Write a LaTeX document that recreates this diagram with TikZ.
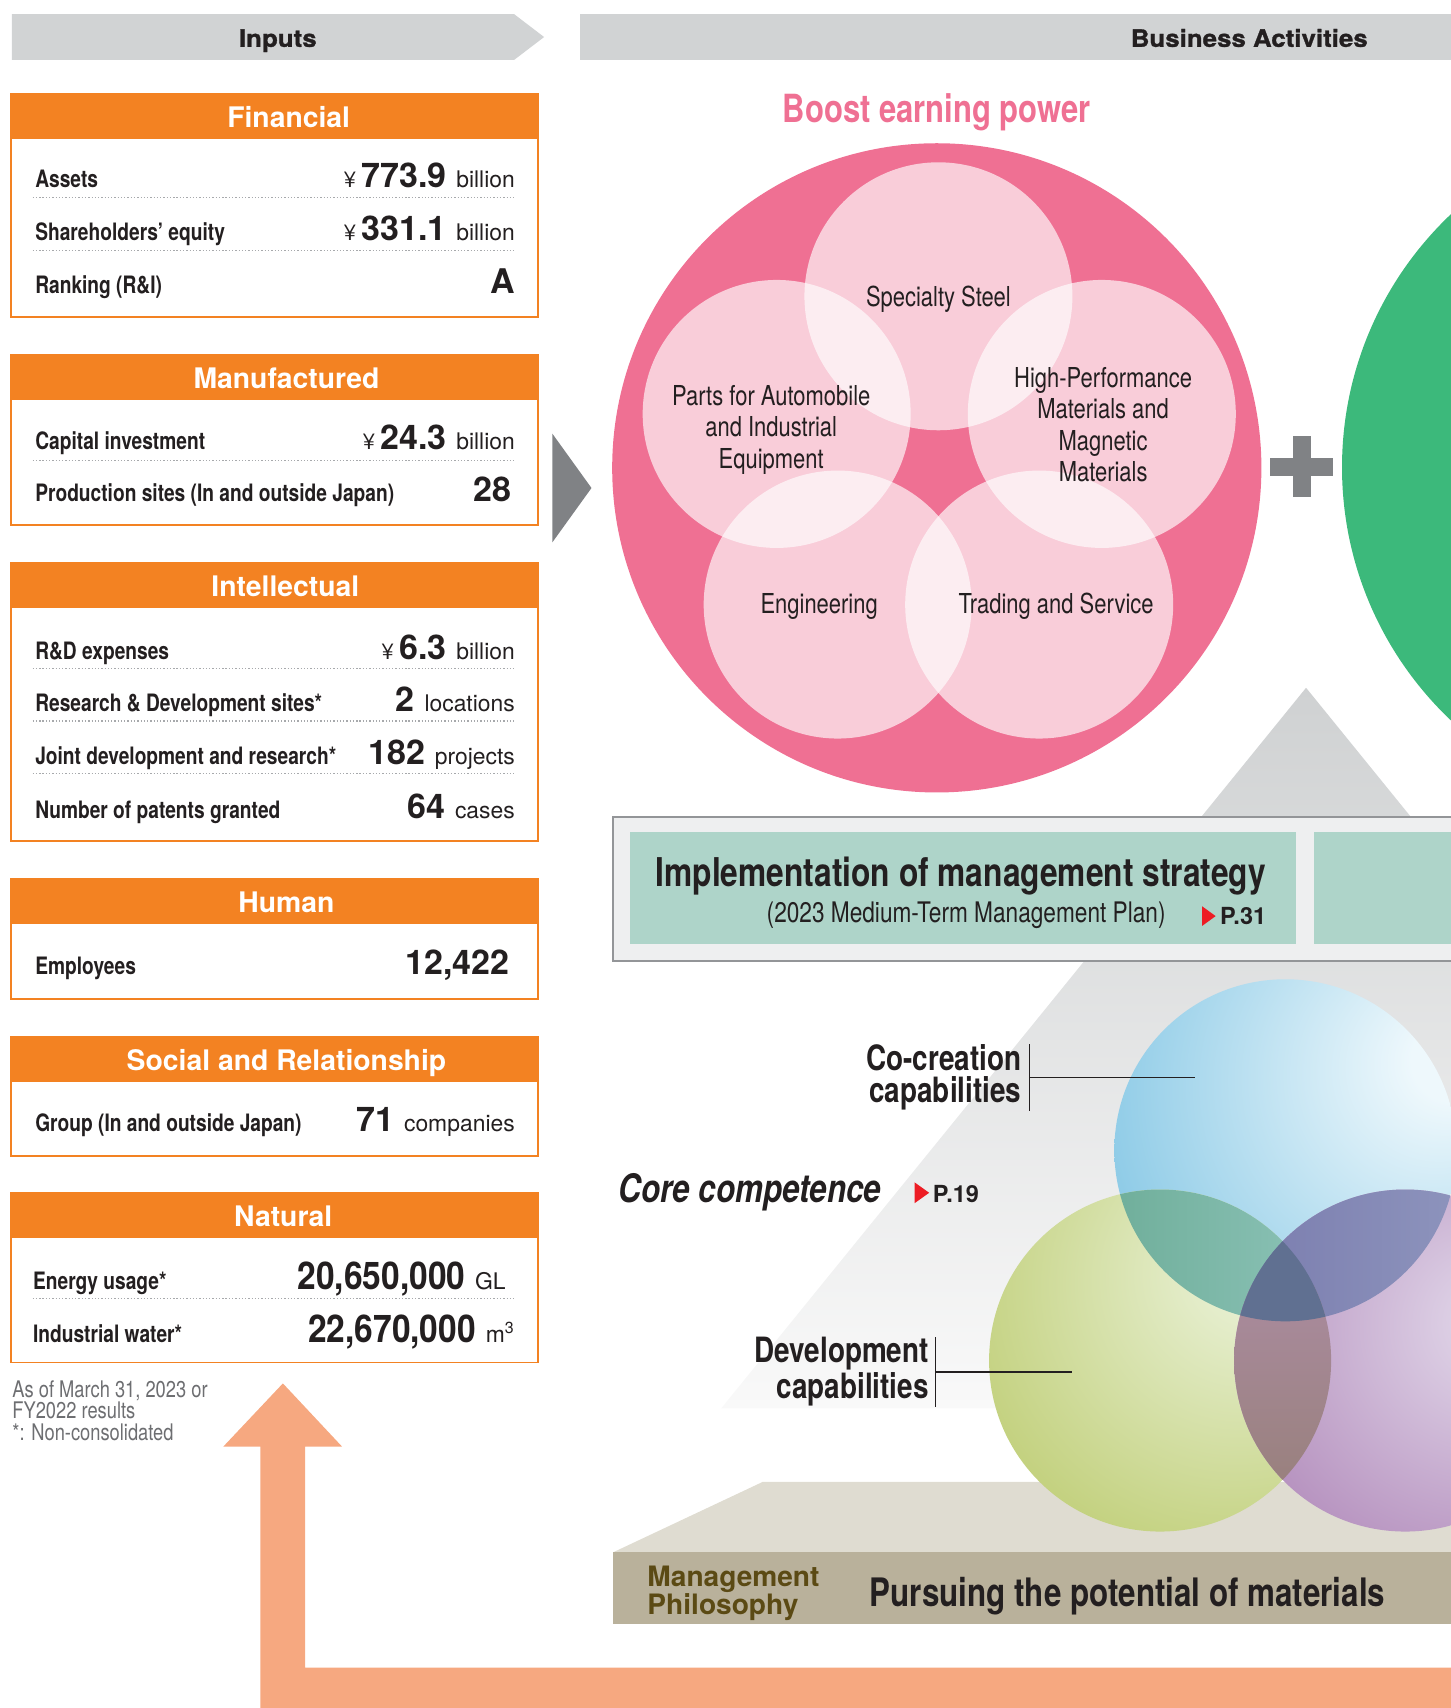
\documentclass[tikz,border=0pt]{standalone}
\usepackage{fontspec}
\setmainfont{TeX Gyre Heros}
\newfontfamily\condfont[FakeStretch=0.8]{TeX Gyre Heros}
\newfontfamily\semicondfont[FakeStretch=0.88]{TeX Gyre Heros}
\newfontfamily\heavyfont[FakeBold=1.2, FakeStretch=1.08]{TeX Gyre Heros}

\definecolor{ink}{HTML}{231F20}
\definecolor{capsorange}{HTML}{F38222}
\definecolor{bannergray}{HTML}{D1D3D4}
\definecolor{chevgray}{HTML}{808285}
\definecolor{boostpink}{HTML}{EF7093}
\definecolor{valuegreen}{HTML}{3CB97B}
\definecolor{stratteal}{HTML}{AED4C9}
\definecolor{framegray}{HTML}{939598}
\definecolor{framefill}{HTML}{EEEFF0}
\definecolor{pyrtop}{HTML}{CFD1D2}
\definecolor{pyrbottom}{HTML}{F9F9F9}
\definecolor{basetop}{HTML}{DFDCD1}
\definecolor{baseband}{HTML}{B9B19B}
\definecolor{philolive}{HTML}{5B4A14}
\definecolor{arroworange}{HTML}{F6A880}
\definecolor{pagered}{HTML}{ED1C24}
\definecolor{notegray}{HTML}{6D6E71}
\definecolor{dotgray}{HTML}{A7A9AC}
\definecolor{cocreateedge}{HTML}{74BFE1}
\definecolor{cocreateglow}{HTML}{EEF8FC}
\definecolor{developedge}{HTML}{BCCB6E}
\definecolor{developglow}{HTML}{E9F1D6}
\definecolor{makeedge}{HTML}{B088B9}
\definecolor{makeglow}{HTML}{DFD3E7}
\definecolor{lensbgleft}{HTML}{5FA38A}
\definecolor{lensbgright}{HTML}{8DC3B8}
\definecolor{lensbpleft}{HTML}{7A7CAE}
\definecolor{lensbpright}{HTML}{97A0C4}
\definecolor{lensgptop}{HTML}{AA8B9E}
\definecolor{lensgpbottom}{HTML}{957E76}
\definecolor{lenscore}{HTML}{607091}

% highlight sits up and to the right of each ball
\pgfdeclareradialshading{cocreateball}{\pgfpoint{26bp}{14bp}}{color(0bp)=(cocreateglow); color(6bp)=(cocreateglow); color(52bp)=(cocreateedge); color(100bp)=(cocreateedge)}
\pgfdeclareradialshading{developball}{\pgfpoint{15bp}{15bp}}{color(0bp)=(developglow); color(4bp)=(developglow); color(45bp)=(developedge); color(100bp)=(developedge)}
\pgfdeclareradialshading{makeball}{\pgfpoint{14bp}{6bp}}{color(0bp)=(makeglow); color(4bp)=(makeglow); color(40bp)=(makeedge); color(100bp)=(makeedge)}

\newcommand{\yensign}{{\fontsize{10}{10}\selectfont ¥}\hspace{2.5pt}}
\newcommand{\capsnum}[1]{{\bfseries\fontsize{15.6}{16}\selectfont #1}}
\newcommand{\naturalnum}[1]{{\semicondfont\bfseries\fontsize{17.5}{18}\selectfont #1}}
\newcommand{\capsunit}[1]{\hspace{4.5pt}{\fontsize{10.5}{11}\selectfont #1}}

\tikzset{
banner/.style = {inner sep=0pt, text=ink, font=\heavyfont\bfseries\fontsize{11}{11}\selectfont},
capsframe/.style = {draw=capsorange, line width=0.7pt, fill=white},
capstitle/.style = {anchor=base, inner sep=0pt, text=white, font=\bfseries\fontsize{13}{13}\selectfont},
rowlabel/.style = {anchor=base west, inner sep=0pt, text=ink, font=\condfont\bfseries\fontsize{11}{13}\selectfont},
rowvalue/.style = {anchor=base east, inner sep=0pt, text=ink},
rowsep/.style = {dotgray, line width=0.6pt, dash pattern=on 0.6pt off 0.9pt},
footnote/.style = {anchor=north west, align=left, inner sep=0pt, text=notegray, font=\condfont\fontsize{10.5}{8.4}\selectfont}
}
\tikzset{
bizcircle/.style = {fill=white, fill opacity=0.65},
bizlabel/.style = {anchor=north, align=center, inner sep=0pt, text=ink, font=\condfont\fontsize{12.6}{14.5}\selectfont},
boost/.style = {anchor=base, inner sep=0pt, text=boostpink, font=\condfont\bfseries\fontsize{17.8}{18}\selectfont},
strategy/.style = {anchor=base, inner sep=0pt, text=ink, font=\condfont\bfseries\fontsize{18.2}{19}\selectfont},
plan/.style = {anchor=base east, inner sep=0pt, text=ink, font=\condfont\fontsize{13}{14}\selectfont},
pageref/.style = {anchor=base west, inner sep=0pt, text=ink, font=\bfseries\fontsize{10.8}{11}\selectfont},
corelabel/.style = {anchor=base west, inner sep=0pt, text=ink, font=\condfont\bfseries\itshape\fontsize{18}{19}\selectfont},
competence/.style = {anchor=north east, align=right, inner sep=0pt, text=ink, font=\condfont\bfseries\fontsize{16}{14.7}\selectfont},
tickline/.style = {ink, line width=0.6pt},
philosophy/.style = {anchor=north west, align=left, inner sep=0pt, text=philolive, font=\bfseries\fontsize{12.9}{12.8}\selectfont},
pursuit/.style = {anchor=base west, inner sep=0pt, text=ink, font=\condfont\bfseries\fontsize{18}{19}\selectfont}
}

\begin{document}
\begin{tikzpicture}[x=0.5pt, y=-0.5pt]
\clip (0,0) rectangle (1332,1568);

% banners
\fill[bannergray] (11,13) -- (472,13) -- (499.5,34) -- (472,55) -- (11,55) -- cycle;
\node[banner, anchor=base] (inputs) at (255,43) {Inputs};
\fill[bannergray] (532,13) rectangle (1345,55);
\node[banner, anchor=base east] (business) at (1256,43) {Business Activities};

% the six capitals
\foreach \ytop/\ybot/\name/\tx/\title in {86/291/financial/265/Financial, 326/482/manufactured/263/Manufactured, 517/772/intellectual/262/Intellectual, 807/917/human/263/Human, 952/1061/social/263/Social and Relationship, 1095/1251/natural/260/Natural}{
  \draw[capsframe] (10,\ytop) rectangle (494,\ybot);
  \fill[capsorange] (10,\ytop) rectangle (494,\ytop+41.5);
  \node[capstitle] (\name) at (\tx,\ytop+31) {\title};
}
\foreach \y in {181,230,422.5,614,662,710,1192}
  \draw[rowsep] (30,\y) -- (473,\y);

\node[rowlabel] (assets) at (32,172) {Assets};
\node[rowvalue] (assetsval) at (473,172) {\yensign\capsnum{773.9}\capsunit{billion}};
\node[rowlabel] (equity) at (32,221) {Shareholders’ equity};
\node[rowvalue] (equityval) at (473,221) {\yensign\capsnum{331.1}\capsunit{billion}};
\node[rowlabel] (ranking) at (32,269.5) {Ranking (R\&I)};
\node[rowvalue] (rankingval) at (473,269.5) {\capsnum{A}};
\node[rowlabel] (capex) at (32,412.5) {Capital investment};
\node[rowvalue] (capexval) at (473,412.5) {\yensign\capsnum{24.3}\capsunit{billion}};
\node[rowlabel] (plants) at (32,460) {Production sites (In and outside Japan)};
\node[rowvalue] (plantsval) at (470,460) {\capsnum{28}};
\node[rowlabel] (rnd) at (32,605) {R\&D expenses};
\node[rowvalue] (rndval) at (473,605) {\yensign\capsnum{6.3}\capsunit{billion}};
\node[rowlabel] (labs) at (32,653) {Research \& Development sites*};
\node[rowvalue] (labsval) at (473,653) {\capsnum{2}\capsunit{locations}};
\node[rowlabel] (joint) at (32,702) {Joint development and research*};
\node[rowvalue] (jointval) at (473,702) {\capsnum{182}\capsunit{projects}};
\node[rowlabel] (patents) at (32,751) {Number of patents granted};
\node[rowvalue] (patentsval) at (473,751) {\capsnum{64}\capsunit{cases}};
\node[rowlabel] (staff) at (32,894.5) {Employees};
\node[rowvalue] (staffval) at (468,894.5) {\capsnum{12,422}};
\node[rowlabel] (group) at (32,1039) {Group (In and outside Japan)};
\node[rowvalue] (groupval) at (473,1039) {\capsnum{71}\capsunit{companies}};
\node[rowlabel] (energy) at (30,1184) {Energy usage*};
\node[rowvalue] (energyval) at (464.6,1184) {\naturalnum{20,650,000}\capsunit{GL}};
\node[rowlabel] (water) at (30,1232.5) {Industrial water*};
\node[rowvalue] (waterval) at (473,1232.5) {\naturalnum{22,670,000}\capsunit{m\textsuperscript{3}}};

\node[footnote] (asof) at (11,1267) {As of March 31, 2023 or\\[-0.6pt]FY2022 results};
\node[footnote] (nonconsol) at (11,1307) {*: Non-consolidated};

\fill[chevgray] (507,398) -- (543,448) -- (507,498) -- cycle;

% business activities
\fill[boostpink] (860,429.5) circle (298);
\foreach \cx/\cy in {861.5/272, 713/380, 1011.5/380, 769/555, 954/555}
  \fill[bizcircle] (\cx,\cy) circle (123);
\node[bizlabel, anchor=base] (steel) at (861.5,281) {Specialty Steel};
\node[bizlabel] (parts) at (708,353) {Parts for Automobile\\and Industrial\\Equipment};
\node[bizlabel] (magnetic) at (1012.7,336.5) {High-Performance\\Materials and\\Magnetic\\Materials};
\node[bizlabel, anchor=base] (engineering) at (752,563) {Engineering};
\node[bizlabel, anchor=base] (trading) at (969.5,563) {Trading and Service};
\node[boost] (boosttitle) at (860,112.4) {Boost earning power};

\fill[chevgray] (1166,420) rectangle (1224,437);
\fill[chevgray] (1187,400.5) rectangle (1203.6,456.7);
\fill[valuegreen] (1552,429) circle (320);

% pyramid
\shade[top color=pyrtop, bottom color=pyrbottom] (1199,631.4) -- (1736,1293) -- (662,1293) -- cycle;

\draw[framegray, line width=1pt, fill=framefill] (563,750) rectangle (1345,882);
\fill[stratteal] (578,764) rectangle (1190,867);
\fill[stratteal] (1206,764) rectangle (1345,867);
\node[strategy] (strategy) at (882,814) {Implementation of management strategy};
\node[plan] (plan) at (1070.5,847) {(2023 Medium-Term Management Plan)};
\fill[pagered] (1103.6,832) -- (1116,841) -- (1103.6,850) -- cycle;
\node[pageref] (p31) at (1119.6,848.7) {P.31};

\fill[basetop] (563,1425) -- (700,1360.5) -- (1345,1360.5) -- (1345,1425) -- cycle;
\fill[baseband] (563,1425) rectangle (1345,1491);
\node[philosophy] (philosophy) at (594,1437) {Management\\Philosophy};
\node[pursuit] (pursuit) at (798,1475) {Pursuing the potential of materials};

% core competence
\coordinate (cocreatec) at (1180,1056);
\coordinate (developc) at (1065,1249);
\coordinate (makec) at (1290,1249);
\shade[shading=cocreateball] (cocreatec) circle (157);
\shade[shading=developball] (developc) circle (157);
\shade[shading=makeball] (makec) circle (157);
% overlaps
\begin{scope}
  \clip (cocreatec) circle (157);
  \shade[left color=lensbgleft, right color=lensbgright] (developc) circle (157);
  \shade[left color=lensbpleft, right color=lensbpright] (makec) circle (157);
\end{scope}
\begin{scope}
  \clip (developc) circle (157);
  \clip (makec) circle (157);
  \shade[top color=lensgptop, bottom color=lensgpbottom] (1133,1180) rectangle (1222,1406);
\end{scope}
\begin{scope}
  \clip (developc) circle (157);
  \clip (makec) circle (157);
  \clip (cocreatec) circle (157);
  \fill[lenscore] (1100,1100) rectangle (1300,1300);
\end{scope}

\node[corelabel] (core) at (567.5,1103.6) {Core competence};
\fill[pagered] (839.7,1085.5) -- (853,1095) -- (839.7,1104.5) -- cycle;
\node[pageref] (p19) at (856,1103.6) {P.19};

\node[competence] (cocreate) at (938,958.5) {Co-creation\\capabilities};
\coordinate (cotick) at (1097,988.5);
\draw[tickline] ([xshift=3.5pt]cocreate.north east) -- ([xshift=3.5pt]cocreate.south east);
\draw[tickline] ([xshift=3.5pt]cocreate.east) -- (cocreate.east -| cotick);

\node[competence] (develop) at (853,1227.5) {Development\\capabilities};
\coordinate (devtick) at (984,1256);
\draw[tickline] ([xshift=3pt]develop.north east) -- ([xshift=3pt]develop.south east);
\draw[tickline] ([xshift=3pt]develop.east) -- (develop.east -| devtick);

% feedback arrow
\fill[arroworange] (239,1580) -- (239,1328) -- (205,1328) -- (259.7,1270) -- (314,1328) -- (280,1328) -- (280,1531) -- (1345,1531) -- (1345,1580) -- cycle;
\end{tikzpicture}
\end{document}
